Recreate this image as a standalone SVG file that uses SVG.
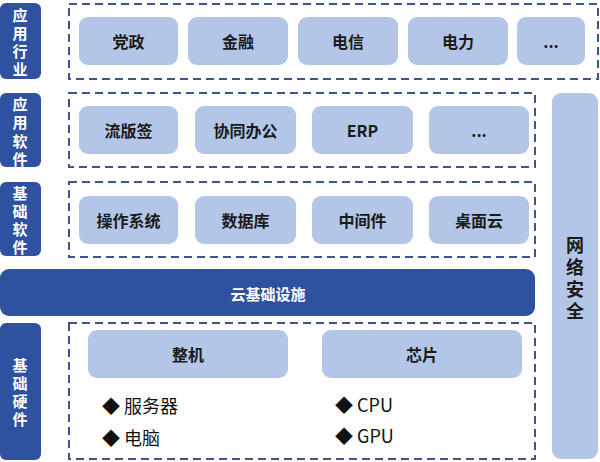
<svg xmlns="http://www.w3.org/2000/svg" width="600" height="462" viewBox="0 0 600 462">
<style>
.lbl{fill:#2F52A0}
.lt{fill:#fff;font-family:"Noto Sans CJK SC","Liberation Sans",sans-serif;font-size:15px;font-weight:bold;text-anchor:middle;dominant-baseline:central;writing-mode:vertical-rl;letter-spacing:3.3px}
.grp{fill:none;stroke:#3E558A;stroke-width:2;stroke-dasharray:8 5}
.nd{fill:#B4C6E7}
.nt{fill:#1a1a1a;font-family:"Noto Sans CJK SC","Liberation Sans",sans-serif;font-size:16px;font-weight:bold;text-anchor:middle;dominant-baseline:central}
.bt{fill:#111;font-family:"Noto Sans CJK SC","Liberation Sans",sans-serif;font-size:18px;dominant-baseline:central}
</style>
<rect width="600" height="462" fill="#fff"/>
<g id="label-industry"><rect class="lbl" x="0" y="3" width="41" height="76" rx="6"/>
<text class="lt" x="20" y="44">应用行业</text></g>
<g id="label-appsw"><rect class="lbl" x="0" y="93" width="41" height="74" rx="6"/>
<text class="lt" x="20" y="133.5">应用软件</text></g>
<g id="label-basesw"><rect class="lbl" x="0" y="182" width="41" height="74" rx="6"/>
<text class="lt" x="20" y="222">基础软件</text></g>
<g id="label-hw"><rect class="lbl" x="0" y="323" width="41" height="137" rx="6"/>
<text class="lt" x="20" y="394">基础硬件</text></g>
<g id="groups">
<rect class="grp" x="69" y="4" width="529" height="75"/>
<rect class="grp" x="69" y="93" width="466" height="74"/>
<rect class="grp" x="69" y="182" width="466" height="75"/>
<rect class="grp" x="69" y="323" width="466" height="136"/>
</g>
<g id="n-dangzheng"><rect class="nd" x="79" y="17" width="99" height="48" rx="9"/><text class="nt" x="128.5" y="41">党政</text></g>
<g id="n-jinrong"><rect class="nd" x="188" y="17" width="100" height="48" rx="9"/><text class="nt" x="238" y="41">金融</text></g>
<g id="n-dianxin"><rect class="nd" x="298" y="17" width="100" height="48" rx="9"/><text class="nt" x="348" y="41">电信</text></g>
<g id="n-dianli"><rect class="nd" x="408" y="17" width="100" height="48" rx="9"/><text class="nt" x="458" y="41">电力</text></g>
<g id="n-more1"><rect class="nd" x="517" y="17" width="68" height="48" rx="9"/><text class="nt" x="551" y="41">...</text></g>
<g id="n-liubanqian"><rect class="nd" x="79" y="106" width="99" height="48" rx="9"/><text class="nt" x="128.5" y="130">流版签</text></g>
<g id="n-xietong"><rect class="nd" x="195" y="106" width="101" height="48" rx="9"/><text class="nt" x="245.5" y="130">协同办公</text></g>
<g id="n-erp"><rect class="nd" x="312" y="106" width="101" height="48" rx="9"/><text class="nt" x="362.5" y="130">ERP</text></g>
<g id="n-more2"><rect class="nd" x="429" y="106" width="100" height="48" rx="9"/><text class="nt" x="479" y="130">...</text></g>
<g id="n-os"><rect class="nd" x="79" y="196" width="99" height="48" rx="9"/><text class="nt" x="128.5" y="220">操作系统</text></g>
<g id="n-db"><rect class="nd" x="195" y="196" width="101" height="48" rx="9"/><text class="nt" x="245.5" y="220">数据库</text></g>
<g id="n-mw"><rect class="nd" x="312" y="196" width="101" height="48" rx="9"/><text class="nt" x="362.5" y="220">中间件</text></g>
<g id="n-desk"><rect class="nd" x="429" y="196" width="100" height="48" rx="9"/><text class="nt" x="479" y="220">桌面云</text></g>
<g id="n-cloud"><rect class="lbl" x="0" y="269" width="535" height="47" rx="9"/><text class="nt" style="fill:#fff;font-size:15px" x="268" y="293">云基础设施</text></g>
<g id="n-security"><rect class="nd" x="552" y="93" width="46" height="366" rx="9"/>
<text class="nt" style="font-size:18px;writing-mode:vertical-rl;letter-spacing:4px" x="575" y="280">网络安全</text></g>
<g id="n-zhengji"><rect class="nd" x="88" y="330" width="200" height="48" rx="9"/><text class="nt" x="188" y="354">整机</text>
<text class="bt" x="102" y="405">◆ 服务器</text><text class="bt" x="102" y="437">◆ 电脑</text></g>
<g id="n-chip"><rect class="nd" x="322" y="330" width="200" height="48" rx="9"/><text class="nt" x="422" y="354">芯片</text>
<text class="bt" x="335" y="404">◆ CPU</text><text class="bt" x="335" y="435">◆ GPU</text></g>
<g id="connectors"></g>
</svg>
